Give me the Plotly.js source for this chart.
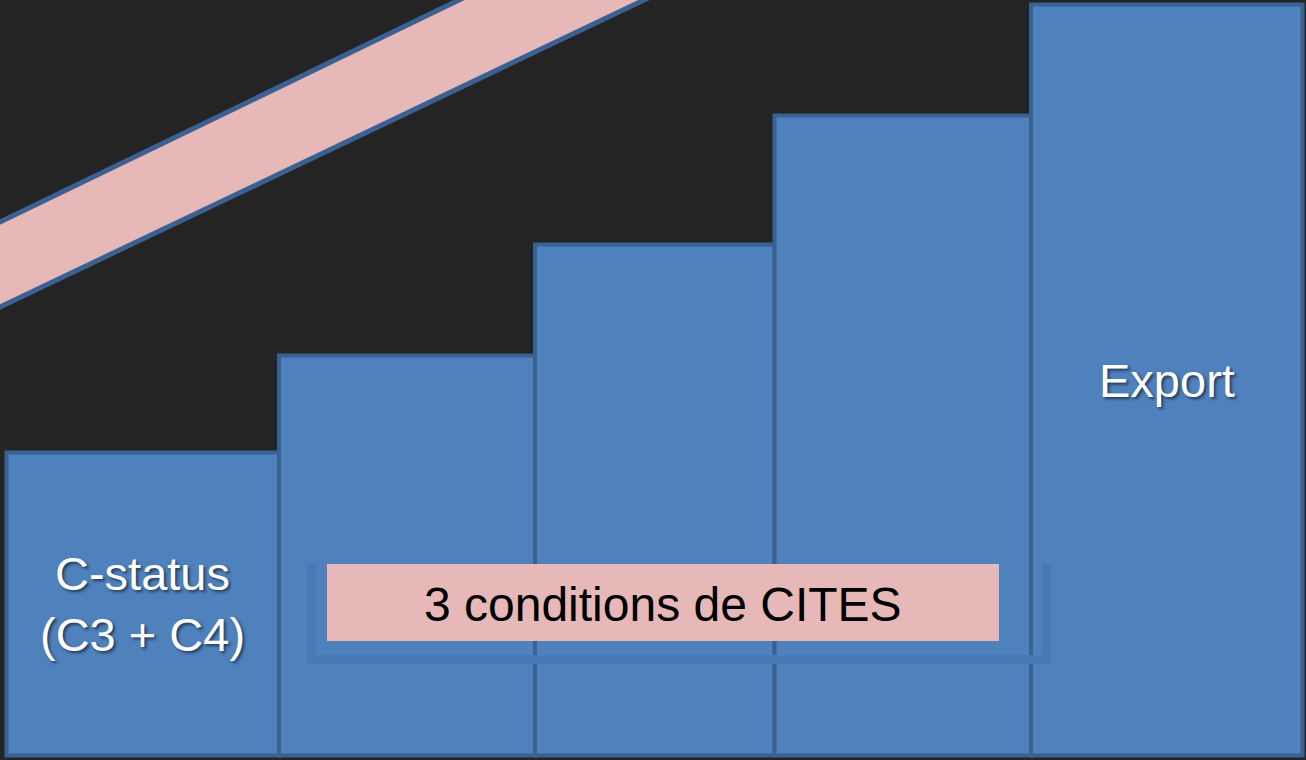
<!DOCTYPE html>
<html>
<head>
<meta charset="utf-8">
<script src="https://cdn.plot.ly/plotly-3.0.1.min.js"></script>
<style>html,body{margin:0;padding:0;background:#242424;}#chart{width:1306px;height:760px;}</style>
</head>
<body>
<div id="chart"></div>
<script>
// ---- data ----
const steps = ["C-status", "Condition 1", "Condition 2", "Condition 3", "Export"];
const stepHeights = [303, 400, 511, 640, 751];
const stepLabels = ["C-status<br>(C3 + C4)", "", "", "", "Export"];
const bracketLabel = "3 conditions de CITES";

// ---- layout geometry (not data) ----
const edges = [6.5, 279, 535, 774.5, 1031, 1302.5];
const W = 1306, H = 760, base = 755.5;   // pixel row of the baseline
const py = p => base - p;                 // pixel row -> axis value

const centers = steps.map((_, i) => (edges[i] + edges[i + 1]) / 2);
const widths = steps.map((_, i) => edges[i + 1] - edges[i]);

const barColor = "#4f81bd", edgeColor = "#3b6192", pink = "#e6b8b7";

const trace = {
  type: "bar",
  x: centers,
  y: stepHeights,
  width: widths,
  text: steps,
  textposition: "none",
  marker: { color: barColor, line: { color: edgeColor, width: 4 } },
  hoverinfo: "skip"
};

// diagonal band (decoration)
const bandPath =
  `M -20,${py(231.7)} L 500.3,${py(-20)} L 686,${py(-20)} L -20,${py(316.5)} Z`;

const shapes = [
  { type: "path", xref: "x", yref: "y", path: bandPath,
    fillcolor: pink, line: { color: edgeColor, width: 5 }, layer: "above" },
  // bracket under the condition box
  { type: "path", xref: "x", yref: "y",
    path: `M 311.5,${py(563)} L 311.5,${py(659.5)} L 1046.5,${py(659.5)} L 1046.5,${py(563)}`,
    line: { color: "#4a7ab6", width: 9 }, layer: "above" },
  { type: "rect", xref: "x", yref: "y", x0: 327, x1: 999, y0: py(641), y1: py(564),
    fillcolor: pink, line: { width: 0 }, layer: "above" }
];

const labelFont = { family: "Liberation Sans, Arial, sans-serif", size: 47, color: "#ffffff",
  shadow: "2px 2px 3px rgba(0,0,0,0.55)" };

const annotations = [];
stepLabels.forEach((t, i) => {
  if (!t) return;
  annotations.push({ x: centers[i], y: stepHeights[i] / 2, xref: "x", yref: "y",
    text: t, showarrow: false, font: labelFont, align: "center" });
});
annotations.push({ x: 663, y: py(604), xref: "x", yref: "y", text: bracketLabel,
  showarrow: false,
  font: { family: "Liberation Sans, Arial, sans-serif", size: 48, color: "#000000" } });

const layout = {
  width: W, height: H,
  margin: { l: 0, r: 0, t: 0, b: 0, pad: 0 },
  paper_bgcolor: "#242424", plot_bgcolor: "#242424",
  showlegend: false, hovermode: false,
  xaxis: { range: [0, W], visible: false, fixedrange: true },
  yaxis: { range: [base - H, base], visible: false, fixedrange: true },
  shapes: shapes,
  annotations: annotations
};

Plotly.newPlot("chart", [trace], layout, { displayModeBar: false, staticPlot: true });
</script>
</body>
</html>
